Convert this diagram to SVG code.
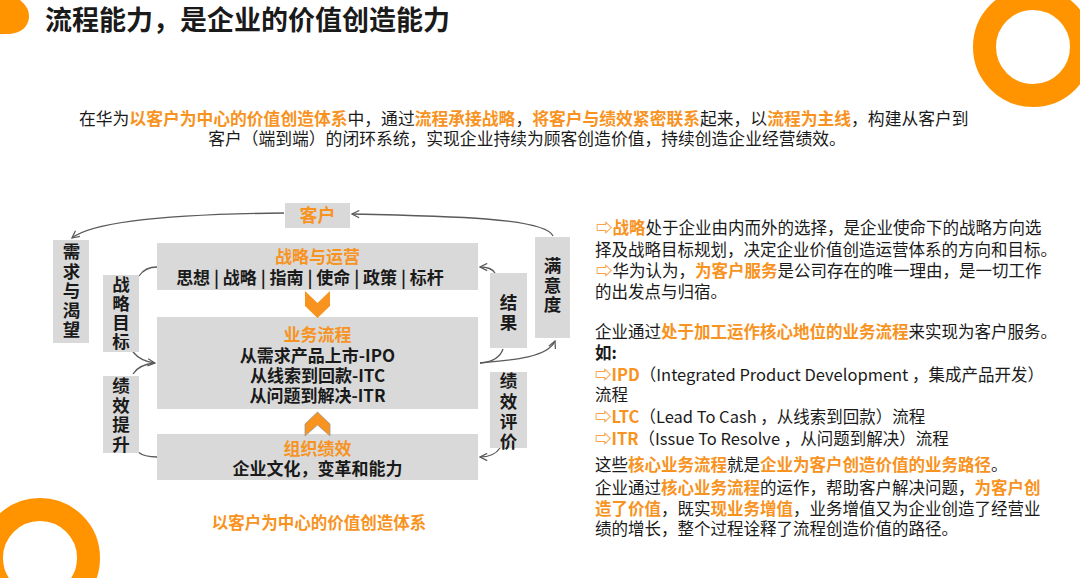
<svg xmlns="http://www.w3.org/2000/svg" width="1080" height="578" viewBox="0 0 1080 578">
<style>
text{font-family:"Noto Sans CJK SC","DejaVu Sans",sans-serif;fill:#1a1a1a}
.t{font-size:27px;font-weight:bold}
.p{font-size:16.8px}
.r{font-size:16.5px}
.o{fill:#F7931E;font-weight:bold}
.b{font-weight:bold}
.box{fill:#D9D9D9}
.bt{font-size:17px;font-weight:bold;text-anchor:middle}
.vt{font-size:17.5px;font-weight:bold;writing-mode:vertical-rl;letter-spacing:2px}
.ring{fill:none;stroke:#FF9400;stroke-width:23}
.c{fill:none;stroke:#5a5a5a;stroke-width:1.3}
.ca{fill:none;stroke:#5a5a5a;stroke-width:1.3;marker-end:url(#ah)}
.chev{fill:#F7931E}
</style>
<defs>
<marker id="ah" viewBox="0 0 10 10" refX="9" refY="5" markerWidth="9" markerHeight="9" markerUnits="userSpaceOnUse" orient="auto">
<path d="M1,1 L9,5 L1,9" fill="none" stroke="#5a5a5a" stroke-width="1.4"/>
</marker>
</defs>
<rect width="1080" height="578" fill="#ffffff"/>
<g id="decor">
<path d="M0,0 H20 Q30,8 29,18 Q27,32 10,34 H0 Z" fill="#FF9400"/>
<circle class="ring" cx="1033" cy="47" r="48.5"/>
<circle class="ring" cx="40" cy="558" r="48.5"/>
</g>
<g id="title"><text class="t" x="45" y="30">流程能力，是企业的价值创造能力</text></g>
<g id="intro">
<text class="p" x="79" y="125">在华为<tspan class="o">以客户为中心的价值创造体系</tspan>中，通过<tspan class="o">流程承接战略</tspan>，<tspan class="o">将客户与绩效紧密联系</tspan>起来，以<tspan class="o">流程为主线</tspan>，构建从客户到</text>
<text class="p" x="527" y="145" text-anchor="middle">客户（端到端）的闭环系统，实现企业持续为顾客创造价值，持续创造企业经营绩效。</text>
</g>
<g id="connectors">
<path class="ca" d="M553,236 C545,218 450,216 352,214"/>
<path class="ca" d="M284,213 C190,214 95,220 72,238"/>
<path class="c" d="M139,276 C143,270 150,267 157,267"/>
<path class="ca" d="M133,352 C138,358 145,362 155,363"/>
<path class="c" d="M133,374 C137,367 145,364 155,363"/>
<path class="c" d="M138,452 C143,456 150,457 157,457"/>
<path class="ca" d="M495,273 C492,268 487,267 480,267"/>
<path class="c" d="M503,349 C500,358 492,362 480,363"/>
<path class="ca" d="M480,363 C515,360 548,357 555,341"/>
<path class="ca" d="M500,448 C496,454 488,457 480,457"/>
</g>
<g id="n-kehu"><rect class="box" x="285" y="203" width="65" height="25"/><text class="bt o" x="317.5" y="222" style="font-size:18px">客户</text></g>
<g id="n-xuqiu"><rect class="box" x="53" y="240" width="36" height="103"/>
<text class="vt" x="71.5" y="243">需求与渴望</text></g>
<g id="n-zlmb"><rect class="box" x="103" y="275" width="36" height="77"/>
<text class="vt" x="121" y="276" style="letter-spacing:1.3px">战略目标</text></g>
<g id="n-jxts"><rect class="box" x="103" y="376" width="36" height="77"/>
<text class="vt" x="121" y="377">绩效提升</text></g>
<g id="n-zlyy"><rect class="box" x="157" y="243" width="321" height="47"/>
<text class="bt o" x="317.5" y="263">战略与运营</text>
<text class="bt" x="310" y="284">思想 | 战略 | 指南 | 使命 | 政策 | 标杆</text></g>
<g id="n-ywlc"><rect class="box" x="157" y="317" width="321" height="92"/>
<text class="bt o" x="317.5" y="341">业务流程</text>
<text class="bt" x="317.5" y="362">从需求产品上市-IPO</text>
<text class="bt" x="317.5" y="382">从线索到回款-ITC</text>
<text class="bt" x="317.5" y="402">从问题到解决-ITR</text></g>
<g id="n-zzjx"><rect class="box" x="157" y="434" width="321" height="46"/>
<text class="bt o" x="317.5" y="455">组织绩效</text>
<text class="bt" x="317.5" y="475">企业文化，变革和能力</text></g>
<g id="n-jieguo"><rect class="box" x="490" y="273" width="37" height="75"/>
<text class="vt" x="508.5" y="294" style="letter-spacing:2.5px">结果</text></g>
<g id="n-myd"><rect class="box" x="535" y="237" width="35" height="101"/>
<text class="vt" x="552.5" y="257">满意度</text></g>
<g id="n-jxpj"><rect class="box" x="490" y="372" width="37" height="76"/>
<text class="vt" x="508.5" y="372" style="letter-spacing:2.7px">绩效评价</text></g>
<g id="chevrons">
<polygon class="chev" points="305,291 317.5,303 330,291 330,306 317.5,318 305,306"/>
<polygon class="chev" points="317.5,412 330,424 330,436 317.5,425 305,436 305,424" stroke="#9a9a9a" stroke-width="0.8"/>
</g>
<g id="caption"><text class="o" x="319" y="529" text-anchor="middle" style="font-size:16.5px">以客户为中心的价值创造体系</text></g>
<g id="rightpanel">
<text class="r" x="596" y="234"><tspan class="o">⇨战略</tspan>处于企业由内而外的选择，是企业使命下的战略方向选</text>
<text class="r" x="595" y="256">择及战略目标规划，决定企业价值创造运营体系的方向和目标。</text>
<text class="r" x="596" y="277"><tspan class="o">⇨</tspan>华为认为，<tspan class="o">为客户服务</tspan>是公司存在的唯一理由，是一切工作</text>
<text class="r" x="595" y="298">的出发点与归宿。</text>
<text class="r" x="595" y="338">企业通过<tspan class="o">处于加工运作核心地位的业务流程</tspan>来实现为客户服务。</text>
<text class="r b" x="595" y="359">如:</text>
<text class="r" x="595" y="381"><tspan class="o">⇨IPD</tspan>（Integrated Product Development ，集成产品开发）</text>
<text class="r" x="595" y="401">流程</text>
<text class="r" x="595" y="423"><tspan class="o">⇨LTC</tspan>（Lead To Cash ，从线索到回款）流程</text>
<text class="r" x="595" y="445"><tspan class="o">⇨ITR</tspan>（Issue To Resolve ，从问题到解决）流程</text>
<text class="r" x="595" y="471">这些<tspan class="o">核心业务流程</tspan>就是<tspan class="o">企业为客户创造价值的业务路径</tspan>。</text>
<text class="r" x="595" y="494">企业通过<tspan class="o">核心业务流程</tspan>的运作，帮助客户解决问题，<tspan class="o">为客户创</tspan></text>
<text class="r" x="595" y="515"><tspan class="o">造了价值</tspan>，既实<tspan class="o">现业务增值</tspan>，业务增值又为企业创造了经营业</text>
<text class="r" x="595" y="535">绩的增长，整个过程诠释了流程创造价值的路径。</text>
</g>
</svg>
